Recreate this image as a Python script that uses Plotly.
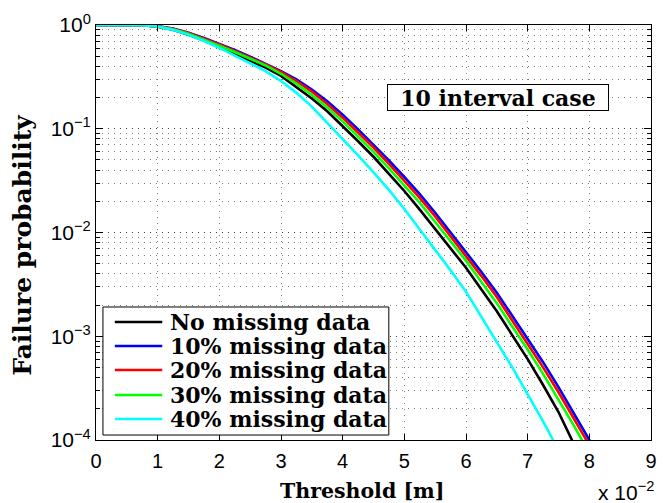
import plotly.graph_objects as go

# Threshold values (in units of 1e-2 m)
x_vals = [0, 0.25, 0.5, 0.75, 1.0, 1.25, 1.5, 1.75, 2.0, 2.25, 2.5, 2.75, 3.0, 3.25,
          3.5, 3.75, 4.0, 4.25, 4.5, 4.75, 5.0, 5.25, 5.5, 5.75, 6.0, 6.25, 6.5, 6.75,
          7.0, 7.25, 7.5, 7.75, 8.0, 8.25]

# log10 of failure probability
no_missing_log10 = [0, 0, 0, -0.003, -0.016, -0.045, -0.095, -0.15, -0.215, -0.28, -0.345,
                    -0.41, -0.49, -0.595, -0.708, -0.832, -0.972, -1.12, -1.27, -1.432, -1.6,
                    -1.78, -1.97, -2.16, -2.34, -2.55, -2.76, -2.99, -3.22, -3.47, -3.73,
                    -4.04, -4.3, -4.6]
miss10_log10 = [0, 0, 0, -0.002, -0.012, -0.035, -0.075, -0.125, -0.183, -0.24, -0.305,
                -0.372, -0.445, -0.525, -0.622, -0.736, -0.864, -1.006, -1.151, -1.306,
                -1.465, -1.63, -1.81, -2.0, -2.18, -2.38, -2.58, -2.80, -3.02, -3.25,
                -3.49, -3.74, -4.0, -4.27]
miss20_log10 = [0, 0, 0, -0.002, -0.013, -0.037, -0.078, -0.13, -0.188, -0.251, -0.315,
                -0.379, -0.452, -0.54, -0.642, -0.762, -0.893, -1.036, -1.181, -1.338,
                -1.498, -1.666, -1.846, -2.038, -2.219, -2.42, -2.622, -2.844, -3.067,
                -3.30, -3.54, -3.79, -4.05, -4.32]
miss30_log10 = [0, 0, 0, -0.002, -0.014, -0.04, -0.085, -0.14, -0.2, -0.26, -0.325, -0.39,
                -0.47, -0.565, -0.674, -0.794, -0.929, -1.074, -1.223, -1.382, -1.543,
                -1.713, -1.899, -2.09, -2.271, -2.476, -2.681, -2.906, -3.128, -3.363,
                -3.608, -3.862, -4.127, -4.4]
miss40_log10 = [0, 0, 0, -0.003, -0.015, -0.047, -0.095, -0.153, -0.22, -0.295, -0.37,
                -0.444, -0.54, -0.654, -0.787, -0.94, -1.093, -1.256, -1.42, -1.59, -1.774,
                -1.97, -2.16, -2.365, -2.57, -2.81, -3.05, -3.30, -3.56, -3.82, -4.1,
                -4.4, -4.7, -5.0]

series_names = ["No missing data", "10% missing data", "20% missing data",
                "30% missing data", "40% missing data"]
series_logs = [no_missing_log10, miss10_log10, miss20_log10, miss30_log10, miss40_log10]
series_colors = ["#000000", "#0000ff", "#ff0000", "#00ff00", "#00ffff"]

x_ticks = [0, 1, 2, 3, 4, 5, 6, 7, 8, 9]
y_tickvals = [1, 0.1, 0.01, 0.001, 0.0001]
y_ticktext = ["10<sup>0</sup>", "10<sup>−1</sup>", "10<sup>−2</sup>",
              "10<sup>−3</sup>", "10<sup>−4</sup>"]

serif = "DejaVu Serif"
sans = "Liberation Sans, Arial, sans-serif"

fig = go.Figure()
for name, logs, col in zip(series_names, series_logs, series_colors):
    fig.add_trace(go.Scatter(
        x=x_vals, y=[10 ** v for v in logs], mode="lines", name=name,
        line=dict(color=col, width=2.6), showlegend=False))

gridcol = "rgba(0,0,0,0.5)"
fig.update_layout(
    width=663, height=503,
    margin=dict(l=96, r=6, t=25, b=63),
    paper_bgcolor="white", plot_bgcolor="white",
    showlegend=False,
    xaxis=dict(
        range=[0, 9], tickvals=x_ticks, ticktext=[str(t) for t in x_ticks],
        ticks="inside", ticklen=6, tickcolor="black", mirror="allticks",
        showline=True, linecolor="black", linewidth=1,
        showgrid=True, gridcolor=gridcol, griddash="1px,5px", gridwidth=1,
        zeroline=False, ticklabelstandoff=3,
        tickfont=dict(family=sans, size=20, color="black"),
    ),
    yaxis=dict(
        type="log", range=[-4, 0], tickvals=y_tickvals, ticktext=y_ticktext,
        ticks="inside", ticklen=7, tickcolor="black", mirror="allticks",
        showline=True, linecolor="black", linewidth=1,
        showgrid=True, gridcolor=gridcol, griddash="1px,5px", gridwidth=1,
        zeroline=False,
        minor=dict(ticks="inside", ticklen=4, tickcolor="black", dtick="D1",
                   showgrid=True, gridcolor=gridcol, griddash="1px,5px", gridwidth=1),
        tickfont=dict(family=sans, size=21, color="black"),
    ),
)

# Legend drawn as a boxed key in the lower-left corner of the axes
leg_x0, leg_x1, leg_y0, leg_y1 = 0.0125, 0.5276, 0.012, 0.3205
fig.add_shape(type="rect", xref="paper", yref="paper", x0=leg_x0, x1=leg_x1,
              y0=leg_y0, y1=leg_y1, line=dict(color="black", width=1),
              fillcolor="white", layer="above")
leg_rows = [0.2843, 0.2265, 0.1687, 0.1084, 0.0506]
for name, col, yy in zip(series_names, series_colors, leg_rows):
    fig.add_shape(type="line", xref="paper", yref="paper", x0=0.0339, x1=0.1194,
                  y0=yy, y1=yy, line=dict(color=col, width=2.6), layer="above")
    fig.add_annotation(xref="paper", yref="paper", x=0.1300, y=yy, xanchor="left",
                       yanchor="middle", text="<b>" + name + "</b>", showarrow=False,
                       font=dict(family=serif, size=22, color="black"))

fig.add_annotation(
    xref="paper", yref="paper", x=0.7237, y=0.8253, xanchor="center", yanchor="middle",
    text="<b>10 interval case</b>", showarrow=False,
    font=dict(family=serif, size=22, color="black"), width=220, height=25,
    bgcolor="white", bordercolor="black", borderwidth=1, borderpad=0,
)
fig.add_annotation(
    xref="paper", yref="paper", x=0.4794, y=-0.1229, xanchor="center", yanchor="middle",
    text="<b>Threshold [m]</b>", showarrow=False,
    font=dict(family=serif, size=20.5, color="black"),
)
fig.add_annotation(
    xref="paper", yref="paper", x=-0.1319, y=0.47, xanchor="center", yanchor="middle",
    text="<b>Failure probability</b>", showarrow=False, textangle=-90,
    font=dict(family=serif, size=25, color="black"),
)
fig.add_annotation(
    xref="paper", yref="paper", x=1.009, y=-0.122, xanchor="right", yanchor="middle",
    text="x 10<sup>−2</sup>", showarrow=False,
    font=dict(family=sans, size=21, color="black"),
)

fig.write_html("out.html")
